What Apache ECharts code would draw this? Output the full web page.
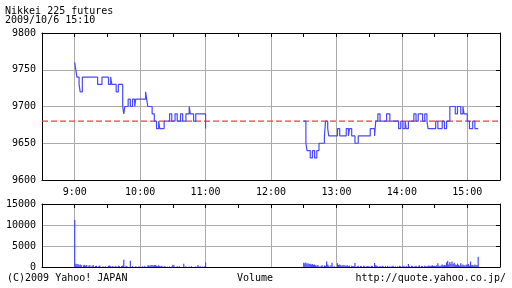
<!DOCTYPE html>
<html>
<head>
<meta charset="utf-8">
<script src="https://cdn.jsdelivr.net/npm/echarts@6/dist/echarts.min.js"></script>
<style>html,body{margin:0;padding:0;background:#fff}#c{width:512px;height:288px}</style>
</head>
<body>
<div id="c"></div>
<script>
// ---- data (time = minutes since midnight) ----
const titleLine1 = 'Nikkei 225 futures';
const titleLine2 = '2009/10/6 15:10';
const footerLeft = '(C)2009 Yahoo! JAPAN';
const footerMid = 'Volume';
const footerRight = 'http://quote.yahoo.co.jp/';
const prevClose = 9680;
const hourTicks = [540, 600, 660, 720, 780, 840, 900];
const hourLabels = ['9:00', '10:00', '11:00', '12:00', '13:00', '14:00', '15:00'];
const priceTicks = ['9600', '9650', '9700', '9750', '9800'];
const volTicks = ['0', '5000', '10000', '15000'];

// morning session price change points
const amTimes = [540,541,542,544,545,547,561,565,571,573,574,578,580,584,585,586,589,591,593,595,596,605,606,607,611,613,615,617,618,622,627,629,632,634,637,639,642,645,646,649,651,660];
const amPrices = [9760,9750,9740,9730,9720,9740,9730,9740,9730,9740,9730,9720,9730,9700,9690,9700,9710,9700,9710,9700,9710,9720,9710,9700,9690,9680,9670,9680,9670,9680,9690,9680,9690,9680,9690,9680,9690,9700,9690,9680,9690,9670];
// afternoon session price change points
const pmTimes = [750,752,753,756,758,760,762,764,769,770,772,773,781,783,789,791,792,794,797,800,811,815,816,818,820,826,829,837,839,841,843,844,846,851,853,855,859,861,863,864,871,873,877,879,881,884,889,891,894,896,897,900,902,905,907,910];
const pmPrices = [9680,9650,9640,9630,9640,9630,9640,9650,9660,9680,9670,9660,9670,9660,9670,9660,9670,9660,9650,9660,9670,9660,9680,9690,9680,9690,9680,9670,9680,9670,9680,9670,9680,9690,9680,9690,9680,9690,9680,9670,9680,9670,9680,9670,9680,9700,9690,9700,9690,9700,9690,9680,9670,9680,9670,9670];

// per-minute volume, 9:00 .. 11:00
const amVolStart = 540;
const amVolume = [11200,
 800,650,700,500,600,450,0,400,500,300,
 450,0,350,400,0,300,500,0,250,300,
 0,200,350,0,0,150,0,200,0,0,
 300,350,200,0,250,0,200,150,0,300,
 200,0,250,350,1750,0,300,200,0,0,
 1500,0,200,0,0,150,0,0,200,0,
 0,150,0,200,100,0,350,400,300,500,
 400,350,500,450,300,200,400,250,200,300,
 0,150,200,0,100,0,150,0,100,550,
 400,0,0,150,0,200,0,0,0,800,
 0,200,0,0,100,0,150,0,0,0,
 100,0,500,0,200,0,100,0,150,1100];
// per-minute volume, 12:30 .. 15:10
const pmVolStart = 750;
const pmVolume = [
 1000,900,1100,800,900,700,800,600,700,500,
 600,400,300,500,200,0,300,400,0,350,
 300,1300,600,300,0,400,1000,0,200,0,
 0,900,500,600,400,300,500,400,350,300,
 400,200,350,0,300,250,200,950,0,200,
 300,0,250,200,0,300,200,0,250,150,
 200,0,300,250,0,950,400,300,200,0,
 250,0,300,200,0,250,0,300,0,200,
 0,250,300,0,200,0,150,0,300,200,
 0,200,300,0,250,0,700,200,0,300,
 250,0,200,300,0,200,400,0,250,200,
 0,300,250,200,300,350,250,300,400,250,
 300,200,400,900,300,250,400,600,350,500,
 400,1100,1400,600,1200,800,1300,700,1000,600,
 400,800,500,300,900,400,600,500,300,600,
 500,700,300,1300,400,500,300,600,400,500,
 2450];

// ---- build ----
const FONT = 'DejaVu Sans Mono';
const pairs = (t, v) => t.map((x, i) => [x, v[i]]);
const volPairs = (start, v) => v.map((y, i) => [start + i, y]);
const labelOf = v => { const i = hourTicks.indexOf(v); return i >= 0 ? hourLabels[i] : ''; };

const XMIN = 510, XMAX = 930;
const gridCol = '#aaaaaa';
function xAxes(gridIndex, withLabels) {
  return [
    { type: 'value', gridIndex, position: 'bottom', min: XMIN, max: XMAX,
      axisLine: { show: true, onZero: false, lineStyle: { color: '#000', width: 1 } },
      axisTick: { show: false, customValues: hourTicks },
      axisLabel: { show: withLabels, customValues: hourTicks, formatter: labelOf, color: '#000', fontFamily: FONT, fontSize: 10, margin: 7 },
      splitLine: { show: true, lineStyle: { color: gridCol, width: 1 } } },
    { type: 'value', gridIndex, position: 'top', min: XMIN, max: XMAX, interval: 30,
      axisLine: { show: true, onZero: false, lineStyle: { color: '#000', width: 1 } },
      axisTick: { show: true, inside: true, length: 4, lineStyle: { color: '#000' } },
      axisLabel: { show: false }, splitLine: { show: false } }
  ];
}
function yAxes(gridIndex, min, max, interval, labels) {
  return [
    { type: 'value', gridIndex, position: 'left', min, max, interval,
      axisLine: { show: true, lineStyle: { color: '#000', width: 1 } },
      axisTick: { show: false },
      axisLabel: { color: '#000', fontFamily: FONT, fontSize: 10, margin: 6,
        formatter: v => labels[Math.round((v - min) / interval)] },
      splitLine: { show: true, lineStyle: { color: gridCol, width: 1 } } },
    { type: 'value', gridIndex, position: 'right', min, max, interval,
      axisLine: { show: true, lineStyle: { color: '#000', width: 1 } },
      axisTick: { show: true, inside: true, length: 4, lineStyle: { color: '#000' } },
      axisLabel: { show: false }, splitLine: { show: false } }
  ];
}

const txt = (text, pos) => Object.assign({ text, textStyle: { fontFamily: FONT, fontSize: 10, fontWeight: 'normal', color: '#000' }, padding: 0 }, pos);
const LINE = '#4848ff';

const chart = echarts.init(document.getElementById('c'), null, { renderer: 'canvas' });
chart.setOption({
  animation: false,
  backgroundColor: '#fff',
  title: [
    txt(titleLine1, { left: 5, top: 6 }),
    txt(titleLine2, { left: 5, top: 15 }),
    txt(footerLeft, { left: 7, top: 273 }),
    txt(footerMid, { left: 237, top: 273 }),
    txt(footerRight, { right: 6, top: 273 })
  ],
  grid: [
    { left: 42, top: 33, width: 458, height: 147 },
    { left: 42, top: 204, width: 458, height: 63 }
  ],
  xAxis: [...xAxes(0, true), ...xAxes(1, false)],
  yAxis: [...yAxes(0, 9600, 9800, 50, priceTicks), ...yAxes(1, 0, 15000, 5000, volTicks)],
  series: [
    { type: 'line', xAxisIndex: 0, yAxisIndex: 0, showSymbol: false, silent: true, z: 1,
      data: [[XMIN, prevClose], [XMAX, prevClose]],
      lineStyle: { color: '#ff3838', type: [6, 3], width: 1.3 } },
    { type: 'line', xAxisIndex: 0, yAxisIndex: 0, step: 'end', showSymbol: false, z: 3,
      data: pairs(amTimes, amPrices), lineStyle: { color: LINE, width: 1.2 } },
    { type: 'line', xAxisIndex: 0, yAxisIndex: 0, step: 'end', showSymbol: false, z: 3,
      data: pairs(pmTimes, pmPrices), lineStyle: { color: LINE, width: 1.2 } },
    { type: 'bar', xAxisIndex: 2, yAxisIndex: 2, barWidth: 1.2, itemStyle: { color: LINE },
      data: volPairs(amVolStart, amVolume) },
    { type: 'bar', xAxisIndex: 2, yAxisIndex: 2, barWidth: 1.2, barGap: '-100%', itemStyle: { color: LINE },
      data: volPairs(pmVolStart, pmVolume) }
  ]
});
</script>
</body>
</html>
